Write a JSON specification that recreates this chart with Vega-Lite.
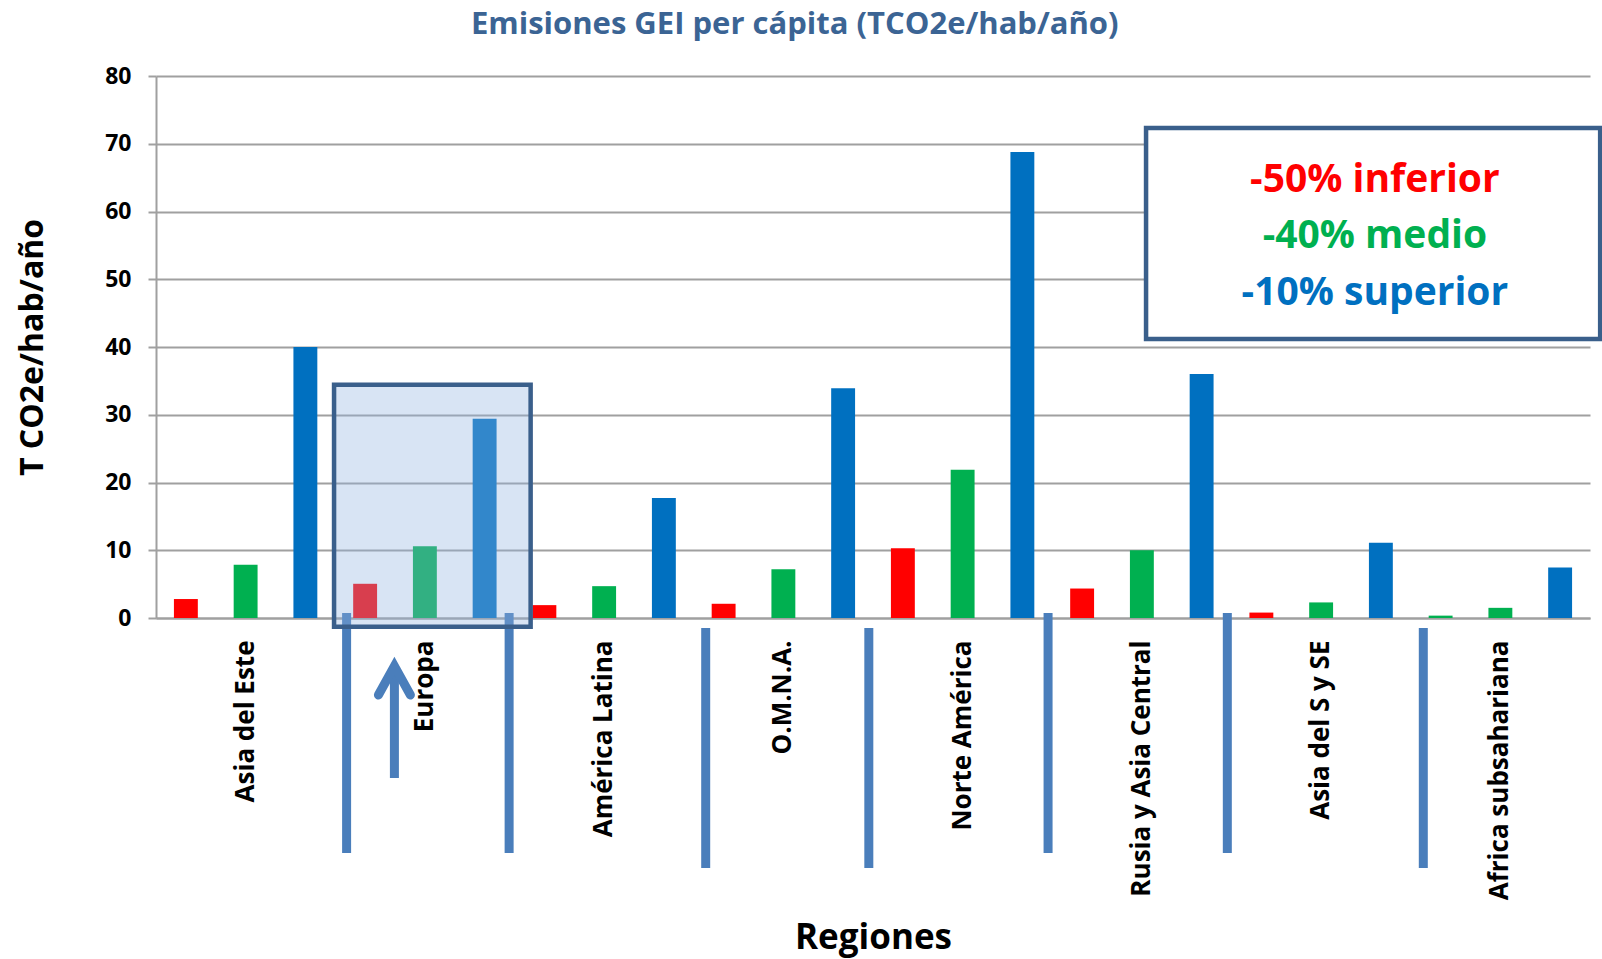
{
  "$schema": "https://vega.github.io/schema/vega-lite/v6.json",
  "width": 1434,
  "height": 542,
  "autosize": {"type": "none"},
  "padding": {"left": 156, "top": 76, "right": 12, "bottom": 341},
  "background": "#ffffff",
  "config": {"view": {"stroke": null}, "font": "Open Sans"},
  "datasets": {
    "emisiones": [
      {"region": "Asia del Este", "nivel": "inferior", "valor": 2.8},
      {"region": "Asia del Este", "nivel": "medio", "valor": 7.85},
      {"region": "Asia del Este", "nivel": "superior", "valor": 40.0},
      {"region": "Europa", "nivel": "inferior", "valor": 5.05},
      {"region": "Europa", "nivel": "medio", "valor": 10.6},
      {"region": "Europa", "nivel": "superior", "valor": 29.4},
      {"region": "América Latina", "nivel": "inferior", "valor": 1.9},
      {"region": "América Latina", "nivel": "medio", "valor": 4.7},
      {"region": "América Latina", "nivel": "superior", "valor": 17.7},
      {"region": "O.M.N.A.", "nivel": "inferior", "valor": 2.1},
      {"region": "O.M.N.A.", "nivel": "medio", "valor": 7.2},
      {"region": "O.M.N.A.", "nivel": "superior", "valor": 33.9},
      {"region": "Norte América", "nivel": "inferior", "valor": 10.3},
      {"region": "Norte América", "nivel": "medio", "valor": 21.9},
      {"region": "Norte América", "nivel": "superior", "valor": 68.8},
      {"region": "Rusia y Asia Central", "nivel": "inferior", "valor": 4.35},
      {"region": "Rusia y Asia Central", "nivel": "medio", "valor": 10.0},
      {"region": "Rusia y Asia Central", "nivel": "superior", "valor": 36.0},
      {"region": "Asia del S y SE", "nivel": "inferior", "valor": 0.8},
      {"region": "Asia del S y SE", "nivel": "medio", "valor": 2.3},
      {"region": "Asia del S y SE", "nivel": "superior", "valor": 11.1},
      {"region": "Africa subsahariana", "nivel": "inferior", "valor": 0.35},
      {"region": "Africa subsahariana", "nivel": "medio", "valor": 1.5},
      {"region": "Africa subsahariana", "nivel": "superior", "valor": 7.45}
    ],
    "separadores": [
      {"limite": 3.19, "desde": 0.74, "hasta": -34.7},
      {"limite": 5.91, "desde": 0.74, "hasta": -34.7},
      {"limite": 9.2, "desde": -1.48, "hasta": -36.9},
      {"limite": 11.93, "desde": -1.48, "hasta": -36.9},
      {"limite": 14.93, "desde": 0.74, "hasta": -34.7},
      {"limite": 17.93, "desde": 0.74, "hasta": -34.7},
      {"limite": 21.21, "desde": -1.48, "hasta": -36.9}
    ]
  },
  "layer": [
    {
      "data": {"name": "emisiones"},
      "mark": {"type": "bar"},
      "encoding": {
        "x": {
          "field": "region",
          "type": "nominal",
          "sort": ["Asia del Este", "Europa", "América Latina", "O.M.N.A.", "Norte América", "Rusia y Asia Central", "Asia del S y SE", "Africa subsahariana"],
          "scale": {"paddingInner": 0, "paddingOuter": 0},
          "axis": {
            "title": "Regiones",
            "titleFontSize": 35,
            "titleFontWeight": "bold",
            "titleColor": "#000000",
            "titleBaseline": "alphabetic",
            "titleY": 330,
            "labelAngle": -90,
            "labelFontSize": 26,
            "labelFontWeight": "bold",
            "labelColor": "#000000",
            "labelPadding": 22,
            "labelLimit": 0,
            "ticks": false,
            "grid": false,
            "domainColor": "#A0A0A0",
            "domainWidth": 2
          }
        },
        "xOffset": {
          "field": "nivel",
          "type": "nominal",
          "sort": ["inferior", "medio", "superior"],
          "scale": {"paddingInner": 0.6, "paddingOuter": 0.3}
        },
        "y": {
          "field": "valor",
          "type": "quantitative",
          "scale": {"domain": [0, 80], "nice": false},
          "axis": {
            "title": "T CO2e/hab/año",
            "titleFontSize": 32,
            "titleFontWeight": "bold",
            "titleColor": "#000000",
            "titleAngle": 270,
            "titleAlign": "center",
            "titleBaseline": "alphabetic",
            "titleX": -114,
            "titleY": 271,
            "values": [0, 10, 20, 30, 40, 50, 60, 70, 80],
            "labelFontSize": 23,
            "labelFontWeight": "bold",
            "labelColor": "#000000",
            "labelPadding": 17,
            "tickSize": 8,
            "tickColor": "#A0A0A0",
            "tickWidth": 2,
            "grid": true,
            "gridColor": "#A0A0A0",
            "gridWidth": 2,
            "domainColor": "#A0A0A0",
            "domainWidth": 2
          }
        },
        "color": {
          "condition": {"test": "datum.region === 'Africa subsahariana' && datum.nivel === 'inferior'", "value": "#00B050"},
          "field": "nivel",
          "type": "nominal",
          "scale": {"domain": ["inferior", "medio", "superior"], "range": ["#FF0000", "#00B050", "#0070C0"]},
          "legend": null
        }
      }
    },
    {
      "data": {"name": "separadores"},
      "mark": {"type": "rule", "color": "#4A7EBB", "strokeWidth": 9},
      "encoding": {
        "x": {"field": "limite", "type": "quantitative", "scale": {"domain": [0, 24], "nice": false, "zero": false}, "axis": null},
        "y": {"field": "desde", "type": "quantitative"},
        "y2": {"field": "hasta"}
      }
    },
    {
      "data": {"values": [{}]},
      "mark": {"type": "rect", "fill": "#8FB1DF", "fillOpacity": 0.35, "stroke": "#3A5F8B", "strokeWidth": 4.5, "strokeOpacity": 1},
      "encoding": {
        "x": {"datum": 2.98, "type": "quantitative", "scale": {"domain": [0, 24], "nice": false, "zero": false}, "axis": null},
        "x2": {"datum": 6.27},
        "y": {"datum": 34.43, "type": "quantitative"},
        "y2": {"datum": -1.28}
      }
    },
    {
      "data": {"values": [{}]},
      "mark": {"type": "rule", "color": "#4A7EBB", "strokeWidth": 9},
      "encoding": {
        "x": {"datum": 3.99, "type": "quantitative", "scale": {"domain": [0, 24], "nice": false, "zero": false}, "axis": null},
        "y": {"datum": -23.6, "type": "quantitative"},
        "y2": {"datum": -7.6}
      }
    },
    {
      "data": {"values": [{}]},
      "mark": {"type": "point", "shape": "M-1,0.906L0,-0.906L1,0.906", "size": 1024, "filled": false, "stroke": "#4A7EBB", "strokeWidth": 9, "strokeCap": "round", "strokeJoin": "miter", "opacity": 1},
      "encoding": {
        "x": {"datum": 3.99, "type": "quantitative", "scale": {"domain": [0, 24], "nice": false, "zero": false}, "axis": null},
        "y": {"datum": -9.22, "type": "quantitative"}
      }
    },
    {
      "data": {"values": [{}]},
      "mark": {"type": "rect", "fill": "#FFFFFF", "stroke": "#3A5F8B", "strokeWidth": 4.5},
      "encoding": {
        "x": {"datum": 16.57, "type": "quantitative", "scale": {"domain": [0, 24], "nice": false, "zero": false}, "axis": null},
        "x2": {"datum": 24.17},
        "y": {"datum": 72.32, "type": "quantitative"},
        "y2": {"datum": 41.18}
      }
    },
    {
      "data": {"values": [{}]},
      "mark": {"type": "text", "text": "-50% inferior", "color": "#FF0000", "fontSize": 39, "fontWeight": "bold", "font": "Open Sans", "align": "center", "baseline": "alphabetic"},
      "encoding": {
        "x": {"datum": 20.4, "type": "quantitative", "scale": {"domain": [0, 24], "nice": false, "zero": false}, "axis": null},
        "y": {"datum": 62.88, "type": "quantitative"}
      }
    },
    {
      "data": {"values": [{}]},
      "mark": {"type": "text", "text": "-40% medio", "color": "#00B050", "fontSize": 39, "fontWeight": "bold", "font": "Open Sans", "align": "center", "baseline": "alphabetic"},
      "encoding": {
        "x": {"datum": 20.4, "type": "quantitative", "scale": {"domain": [0, 24], "nice": false, "zero": false}, "axis": null},
        "y": {"datum": 54.61, "type": "quantitative"}
      }
    },
    {
      "data": {"values": [{}]},
      "mark": {"type": "text", "text": "-10% superior", "color": "#0070C0", "fontSize": 39, "fontWeight": "bold", "font": "Open Sans", "align": "center", "baseline": "alphabetic"},
      "encoding": {
        "x": {"datum": 20.4, "type": "quantitative", "scale": {"domain": [0, 24], "nice": false, "zero": false}, "axis": null},
        "y": {"datum": 46.2, "type": "quantitative"}
      }
    },
    {
      "data": {"values": [{}]},
      "mark": {"type": "text", "text": "Emisiones GEI per cápita (TCO2e/hab/año)", "color": "#3B6494", "fontSize": 31, "fontWeight": "bold", "font": "Open Sans", "align": "center", "baseline": "alphabetic"},
      "encoding": {
        "x": {"datum": 10.69, "type": "quantitative", "scale": {"domain": [0, 24], "nice": false, "zero": false}, "axis": null},
        "y": {"datum": 86.2, "type": "quantitative"}
      }
    }
  ],
  "resolve": {"scale": {"x": "independent"}}
}
